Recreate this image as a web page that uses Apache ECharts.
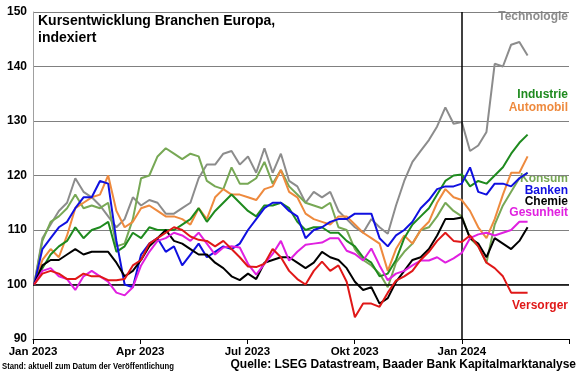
<!DOCTYPE html>
<html>
<head>
<meta charset="utf-8">
<script src="https://cdn.jsdelivr.net/npm/echarts@6/dist/echarts.min.js"></script>
<style>html,body{margin:0;padding:0;background:#fff;}#c{width:580px;height:374px;}</style>
</head>
<body>
<div id="c"></div>
<script>
// Weekly observations: week index i -> day offset from 2023-01-01
const xTickLabels = ['Jan 2023', 'Apr 2023', 'Jul 2023', 'Okt 2023', 'Jan 2024', ''];
const technologie = [100,108.5,111,113.5,115,119.5,117,116,114.5,112.5,110.5,112,116,114.5,115.5,115,113,
  113,114,115,119.5,122,122,124,124.5,122,123.5,120.5,125,120.5,124,119,118,115,
  117,116,117,113.5,112,110.5,109.5,112,110.5,109.3,114.5,119,122.5,124.5,126.5,129,
  132.5,129.5,129.8,124.5,125.5,128,140.5,140,144,144.5,142];
const konsum = [100,108,111.5,112.5,114,116.5,114,114.5,114,115,107,107.5,112,119.5,120,123.5,125,
  124,123,124,123.5,119,118,117.5,121.5,118.5,118.5,119.5,122.5,118.5,121,118,116.5,115,
  114.5,114,115,110.5,110,106.5,104.5,103.5,102,99.5,104,106,107.5,110,110.5,112.5,
  115,113.5,112.5,108.5,107,104,111,114.5,117,119.5,120.5];
const industrie = [100,103,105.5,107,108,110.5,108.5,110,110.5,111.5,106,107,109.5,108.5,110.5,110,110,
  110,111,112,114,111.5,113.5,115,116.5,115,113.5,112.5,114.5,114.5,115,114,111.5,110,
  110.5,110.5,109.5,109.5,108,107,105,104,101.5,102,104.5,108.5,111,112.5,114,116.5,
  119,120,120.2,118,119,118.5,120,121.5,124,126,127.5];
const automobil = [100,104.5,106.5,105,109,114,115,116,116.5,120,113.5,110.5,111.5,114,114.5,113.5,112.5,
  112.5,112,111,114,112,116,117.5,116.5,116.5,116,115.5,117.5,118,121,117,116,113,
  112,111.5,111,112.5,112.5,111,109.5,108.5,107.5,102.5,106.5,109,107.5,110,111.5,115,
  117.5,116,115.5,113.5,110.5,108.5,112,116.5,120.5,120.5,123.5];
const banken = [100,106.5,108.5,110.5,111.5,114,116,116,119,118.5,108,100,99.5,105.5,107.5,108.5,106,
  107,103.5,105.5,107.5,105,106,107,106.5,107.5,110,112,114,115,115,113.5,112.5,108.5,
  110,110.5,111.5,112,112,113,113,113,108.5,107,109,110,111.5,114,115.5,117.5,
  118,118,118.5,121.5,117,116.5,118.5,118.5,118,119.5,120.5];
const chemie = [100,103.5,104.5,104.5,105.5,106.5,105.5,106,106,106,104,101.5,102.5,104.5,107,108.5,110,
  108,107.5,106.5,105.5,105.5,104,103,101.5,100.8,102,101,104,104.5,105,105,104,103,
  104,106,105,104.5,103,100.5,99,99.5,96.5,97.5,100.5,102.5,104.5,105,106.5,109,
  112,112,112.3,108.5,107.5,105,108.5,107.5,106.5,108,110.5];
const gesunheit = [100,102.5,103,101.5,101,99,101.5,102.5,101.5,100.5,98.5,98,99.5,103.5,106,108,108.5,
  109.5,109,108,109.5,107.5,105.5,106.8,107,106.8,103.8,101.8,103.8,105.6,108,104.4,106,107.3,
  107.5,107.7,108.5,108.5,106.2,105.6,104.4,106.6,103.5,100.8,102,102.5,103.5,104.4,104.4,105,
  104,104.8,105.8,108.5,109.2,109.5,109,109.5,110,111.5,111.5];
const versorger = [100,102,102.5,102,101,101,102,101.5,101.5,100.8,100.8,101,103.5,104.5,107.5,108.5,109.5,
  110.5,110,108.8,108.2,108,107,108,106.5,105,103.3,103.2,103.8,106.5,105,102.5,101,100,
  102.5,104.2,102.5,103.5,100.5,94,96.5,96.5,95.9,98.5,100.7,101.5,102.5,104.5,106,108,
  109.5,108,107.8,109,107,104,103,101.5,98.5,98.5,98.5];

const FONT = "'Liberation Sans', Arial, Helvetica, sans-serif";
function toPts(arr) { return arr.map((v, i) => [1 + 7 * i, v]); }

const seriesDefs = [
  { name: 'Technologie', data: technologie, color: '#8c8c8c', label: 'Technologie', ly: 18 },
  { name: 'Konsum', data: konsum, color: '#77a855', label: 'Konsum', ly: 180 },
  { name: 'Automobil', data: automobil, color: '#ee8a3e', label: 'Automobil', ly: 109 },
  { name: 'Industrie', data: industrie, color: '#1e8a1e', label: 'Industrie', ly: 96 },
  { name: 'Banken', data: banken, color: '#1010e0', label: 'Banken', ly: 192 },
  { name: 'Chemie', data: chemie, color: '#000000', label: 'Chemie', ly: 203 },
  { name: 'Gesunheit', data: gesunheit, color: '#e020e0', label: 'Gesunheit', ly: 214 },
  { name: 'Versorger', data: versorger, color: '#e01818', label: 'Versorger', ly: 307 }
];

const chart = echarts.init(document.getElementById('c'), null, { renderer: 'canvas' });

const series = seriesDefs.map((s, idx) => ({
  type: 'line',
  name: s.name,
  data: toPts(s.data),
  showSymbol: false,
  symbol: 'none',
  lineStyle: { color: s.color, width: 2 },
  itemStyle: { color: s.color },
  z: 3 + idx,
  animation: false
}));
series.push({
  type: 'line', data: [], silent: true, animation: false,
  markLine: {
    silent: true, symbol: 'none', animation: false,
    label: { show: false },
    lineStyle: { color: '#000', width: 1.5, type: 'solid' },
    data: [{ yAxis: 100 }, { xAxis: 365 }]
  },
  z: 2
});

const graphics = [
  { type: 'text', left: 38, top: 13, style: { text: 'Kursentwicklung Branchen Europa,\nindexiert', font: 'bold 14px ' + FONT, fill: '#000', lineHeight: 17 } },
  { type: 'text', x: 2, y: 362, scaleX: 0.86, originX: 0, style: { text: 'Stand: aktuell zum Datum der Veröffentlichung', font: 'bold 9px ' + FONT, fill: '#000' } },
  { type: 'text', right: 4, top: 359, style: { text: 'Quelle: LSEG Datastream, Baader Bank Kapitalmarktanalyse', font: 'bold 12px ' + FONT, fill: '#000' } }
];
seriesDefs.forEach(s => {
  graphics.push({ type: 'text', right: 12, top: s.ly - 7, style: { text: s.label, font: 'bold 12px ' + FONT, fill: s.color } });
});

chart.setOption({
  animation: false,
  backgroundColor: '#fff',
  grid: { left: 33, right: 11, top: 12, bottom: 35, containLabel: false },
  xAxis: {
    type: 'value', min: 0, max: 456.25, interval: 91.25,
    axisLine: { show: true, onZero: false, lineStyle: { color: '#000', width: 1 } },
    axisTick: { show: true, length: 5, lineStyle: { color: '#000' } },
    splitLine: { show: false },
    axisLabel: {
      margin: 7, color: '#000', fontWeight: 'bold', fontSize: 11.5, fontFamily: FONT,
      showMinLabel: true, showMaxLabel: true,
      formatter: v => xTickLabels[Math.round(v / 91.25)] || ''
    }
  },
  yAxis: {
    type: 'value', min: 90, max: 150, interval: 10,
    axisLine: { show: true, lineStyle: { color: '#a0a0a0', width: 1 } },
    axisTick: { show: false },
    splitLine: { show: true, lineStyle: { color: '#808080', width: 1 } },
    axisLabel: { margin: 6, color: '#000', fontWeight: 'bold', fontSize: 12, fontFamily: FONT }
  },
  series: series,
  graphic: graphics
});
</script>
</body>
</html>
